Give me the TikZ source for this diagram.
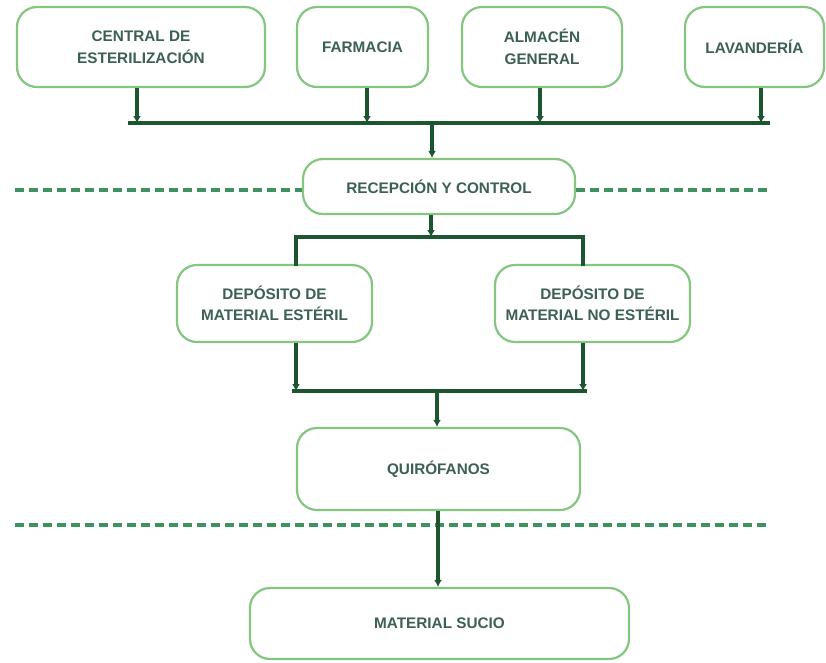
\documentclass[tikz,border=0pt]{standalone}
\usepackage{fontspec}
\setmainfont{Liberation Sans}
\usetikzlibrary{arrows.meta}
\definecolor{boxline}{HTML}{84C680}
\definecolor{flow}{HTML}{1D5530}
\definecolor{divider}{HTML}{3E9262}
\definecolor{label}{HTML}{3C5F56}
\tikzset{
  area/.style={draw=boxline, line width=2.2pt, rounded corners=20pt, fill=white,
    align=center, text=label, font=\bfseries\fontsize{15.3}{21.5}\selectfont,
    inner sep=0pt},
  bus/.style={draw=flow, line width=4pt},
  feed/.style={draw=flow, line width=3.6pt, -{Latex[length=7pt,width=8pt]}},
  link/.style={draw=flow, line width=3.6pt},
  divline/.style={draw=divider, line width=3.6pt, dash pattern=on 9pt off 5pt}
}
\begin{document}
\begin{tikzpicture}[x=1pt,y=-1pt]
\useasboundingbox[fill=white] (0,0) rectangle (826,662);

% supply areas
\node[area, minimum width=248pt, minimum height=80pt] (cent) at (141,47) {CENTRAL DE\\ESTERILIZACIÓN};
\node[area, minimum width=131pt, minimum height=80pt] (farm) at (362.5,47) {FARMACIA};
\node[area, minimum width=160pt, minimum height=80pt] (alm) at (542,47) {ALMACÉN\\GENERAL};
\node[area, minimum width=139pt, minimum height=80pt] (lav) at (754.5,47) {LAVANDERÍA};

% reception
\node[area, minimum width=272pt, minimum height=55pt] (rec) at (439,186.5) {RECEPCIÓN Y CONTROL};

% stores
\node[area, minimum width=195pt, minimum height=77pt] (dep1) at (274.5,303.5) {DEPÓSITO DE\\MATERIAL ESTÉRIL};
\node[area, minimum width=195pt, minimum height=77pt] (dep2) at (592.5,303.5) {DEPÓSITO DE\\MATERIAL NO ESTÉRIL};

% operating rooms and dirty material
\node[area, minimum width=283pt, minimum height=82pt] (quir) at (438.5,469) {QUIRÓFANOS};
\node[area, minimum width=379pt, minimum height=71pt] (sucio) at (439.5,623.5) {MATERIAL SUCIO};

% zone dividers
\coordinate (dl1) at (15,190);
\coordinate (dr1) at (770,190);
\coordinate (dl2) at (15,525);
\coordinate (dr2) at (770,525);
\draw[divline] (dl1) -- (rec.west |- dl1);
\draw[divline] (rec.east |- dr1) -- (dr1);
\draw[divline] (dl2) -- (dr2);

% collecting bus from the supply areas
\coordinate (t1) at (137,123);
\coordinate (t2) at (367,123);
\coordinate (t3) at (540,123);
\coordinate (t4) at (761,123);
\coordinate (tl) at (128,123);
\coordinate (tr) at (770,123);
\coordinate (tm) at (432,123);
\draw[bus] (tl) -- (tr);
\draw[feed] (cent.south -| t1) -- (t1);
\draw[feed] (farm.south -| t2) -- (t2);
\draw[feed] (alm.south -| t3) -- (t3);
\draw[feed] (lav.south -| t4) -- (t4);
\draw[feed] (tm) -- (rec.north -| tm);

% distribution to the stores
\coordinate (m0) at (431,237);
\coordinate (ml) at (296,237);
\coordinate (mr) at (583,237);
\draw[feed] (rec.south -| m0) -- (m0);
\draw[link, line cap=rect] (dep1.north -| ml) -- (ml) -- (mr) -- (dep2.north -| mr);

% gathering from the stores
\coordinate (g1) at (296,391);
\coordinate (g2) at (583,391);
\coordinate (gl) at (292,391);
\coordinate (gr) at (587,391);
\coordinate (gm) at (437,391);
\draw[bus] (gl) -- (gr);
\draw[feed] (dep1.south -| g1) -- (g1);
\draw[feed] (dep2.south -| g2) -- (g2);
\draw[feed] (gm) -- (quir.north -| gm);

% to dirty material
\coordinate (q0) at (438,510);
\draw[feed] (quir.south -| q0) -- (sucio.north -| q0);
\end{tikzpicture}
\end{document}
